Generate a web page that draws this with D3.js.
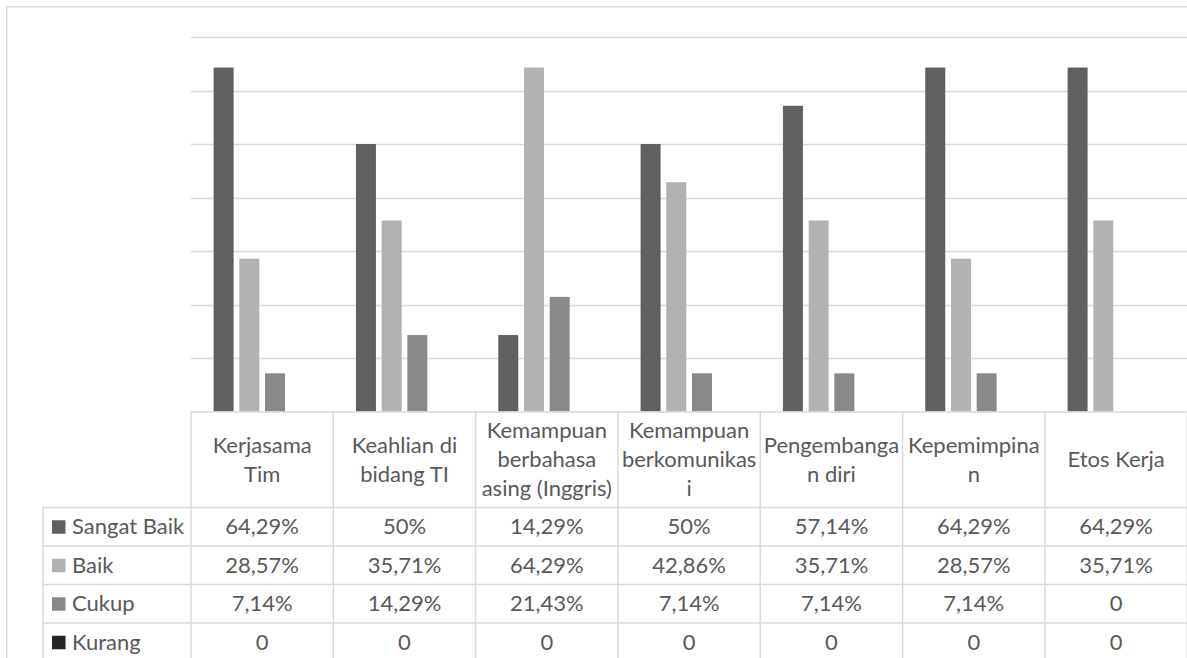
<!DOCTYPE html>
<html>
<head>
<meta charset="utf-8">
<script src="https://cdn.jsdelivr.net/npm/d3@7/dist/d3.min.js"></script>
<style>
  html, body { margin: 0; padding: 0; background: #ffffff; }
  svg { display: block; }
  text { font-family: Lato, "Open Sans", sans-serif; fill: #595959; }
</style>
</head>
<body>
<svg id="chart" width="1187" height="658"></svg>
<script>
// Competency categories (header labels are pre-wrapped into lines)
const categories = [
  "Kerjasama Tim",
  "Keahlian di bidang TI",
  "Kemampuan berbahasa asing (Inggris)",
  "Kemampuan berkomunikasi",
  "Pengembangan diri",
  "Kepemimpinan",
  "Etos Kerja"
];
const categoryLines = [
  ["Kerjasama", "Tim"],
  ["Keahlian di", "bidang TI"],
  ["Kemampuan", "berbahasa", "asing (Inggris)"],
  ["Kemampuan", "berkomunikas", "i"],
  ["Pengembanga", "n diri"],
  ["Kepemimpina", "n"],
  ["Etos Kerja"]
];

// Rating series
const seriesNames = ["Sangat Baik", "Baik", "Cukup", "Kurang"];
const sangatBaik = [64.29, 50, 14.29, 50, 57.14, 64.29, 64.29];
const baik       = [28.57, 35.71, 64.29, 42.86, 35.71, 28.57, 35.71];
const cukup      = [7.14, 14.29, 21.43, 7.14, 7.14, 7.14, 0];
const kurang     = [0, 0, 0, 0, 0, 0, 0];
const seriesValues = [sangatBaik, baik, cukup, kurang];

// Value axis gridlines (percent)
const yTicks = [10, 20, 30, 40, 50, 60, 70];

const colors = {
  "Sangat Baik": "#606060",
  "Baik": "#b2b2b2",
  "Cukup": "#898989",
  "Kurang": "#262626"
};
const gridColor = "#d9d9d9";

const svg = d3.select("#chart");

// Layout
const plotLeft = 191, plotRight = 1187.3;
const plotTop = 37, plotBottom = 411.5;
const headerBottom = 507.5;
const tableBottom = 661.5;
const labelLeft = 43;

const x0 = d3.scaleBand().domain(categories).range([plotLeft, plotRight]).padding(0);
const x1 = d3.scaleBand().domain(seriesNames).range([0, x0.bandwidth()])
  .paddingInner(0.222).paddingOuter(0.88);
const y = d3.scaleLinear().domain([0, 70]).range([plotBottom, plotTop]);
const rowY = d3.scaleBand().domain(seriesNames).range([headerBottom, tableBottom]);

// Chart area border
svg.append("rect")
  .attr("x", 6.75).attr("y", 6.75)
  .attr("width", 1200).attr("height", 700)
  .attr("fill", "none")
  .attr("stroke", gridColor)
  .attr("stroke-width", 1.5);

// Horizontal gridlines
svg.append("g")
  .selectAll("line")
  .data(yTicks)
  .join("line")
  .attr("x1", plotLeft).attr("x2", plotRight)
  .attr("y1", d => Math.round(y(d)) + 0.5)
  .attr("y2", d => Math.round(y(d)) + 0.5)
  .attr("stroke", gridColor)
  .attr("stroke-width", 1.3);

// Bars
const rows = seriesNames.map((s, i) => ({ name: s, values: seriesValues[i] }));
const barData = [];
categories.forEach((c, ci) => {
  rows.forEach(r => barData.push({ category: c, series: r.name, value: r.values[ci] }));
});
svg.append("g")
  .selectAll("rect")
  .data(barData)
  .join("rect")
  .attr("x", d => x0(d.category) + x1(d.series))
  .attr("y", d => y(d.value))
  .attr("width", x1.bandwidth())
  .attr("height", d => y(0) - y(d.value))
  .attr("fill", d => colors[d.series]);

// Data table grid
const grid = svg.append("g").attr("stroke", gridColor).attr("stroke-width", 1.5);
// top of header row (category axis)
grid.append("line")
  .attr("x1", plotLeft).attr("x2", plotRight)
  .attr("y1", plotBottom + 0.5).attr("y2", plotBottom + 0.5);
// row separators
const rowEdges = seriesNames.map(s => rowY(s)).concat([tableBottom]);
grid.selectAll("line.row")
  .data(rowEdges)
  .join("line")
  .attr("class", "row")
  .attr("x1", labelLeft).attr("x2", plotRight)
  .attr("y1", d => d).attr("y2", d => d);
// column separators
const colEdges = categories.map(c => x0(c)).concat([plotRight]);
grid.selectAll("line.col")
  .data(colEdges)
  .join("line")
  .attr("class", "col")
  .attr("x1", d => d).attr("x2", d => d)
  .attr("y1", plotBottom).attr("y2", tableBottom);
// legend column left edge
grid.append("line")
  .attr("x1", labelLeft).attr("x2", labelLeft)
  .attr("y1", headerBottom).attr("y2", tableBottom);

// Header labels
const fontSize = 22;
const lineH = 29;
const capHalf = 7.7;
const headerMid = (plotBottom + headerBottom) / 2;
const headers = svg.append("g")
  .selectAll("text")
  .data(categories)
  .join("text")
  .attr("text-anchor", "middle")
  .attr("font-size", fontSize);
headers.each(function (c, ci) {
  const lines = categoryLines[ci];
  const n = lines.length;
  d3.select(this).selectAll("tspan")
    .data(lines)
    .join("tspan")
    .attr("x", x0(c) + x0.bandwidth() / 2)
    .attr("y", (d, i) => headerMid + (i - (n - 1) / 2) * lineH + capHalf)
    .text(d => d);
});

// Legend keys and series names
const legend = svg.append("g")
  .selectAll("g")
  .data(seriesNames)
  .join("g")
  .attr("transform", s => `translate(0, ${rowY(s) + rowY.bandwidth() / 2})`);
legend.append("rect")
  .attr("x", 52).attr("y", -6.5)
  .attr("width", 13.5).attr("height", 13.5)
  .attr("fill", s => colors[s]);
legend.append("text")
  .attr("x", 72).attr("y", capHalf)
  .attr("font-size", fontSize)
  .text(s => s);

// Table values
const fmt = v => v === 0 ? "0" : String(v).replace(".", ",") + "%";
const cells = [];
rows.forEach(r => r.values.forEach((v, ci) => cells.push({ series: r.name, category: categories[ci], value: v })));
svg.append("g")
  .selectAll("text")
  .data(cells)
  .join("text")
  .attr("text-anchor", "middle")
  .attr("font-size", fontSize)
  .attr("x", d => x0(d.category) + x0.bandwidth() / 2)
  .attr("y", d => rowY(d.series) + rowY.bandwidth() / 2 + capHalf)
  .text(d => fmt(d.value));
</script>
</body>
</html>
